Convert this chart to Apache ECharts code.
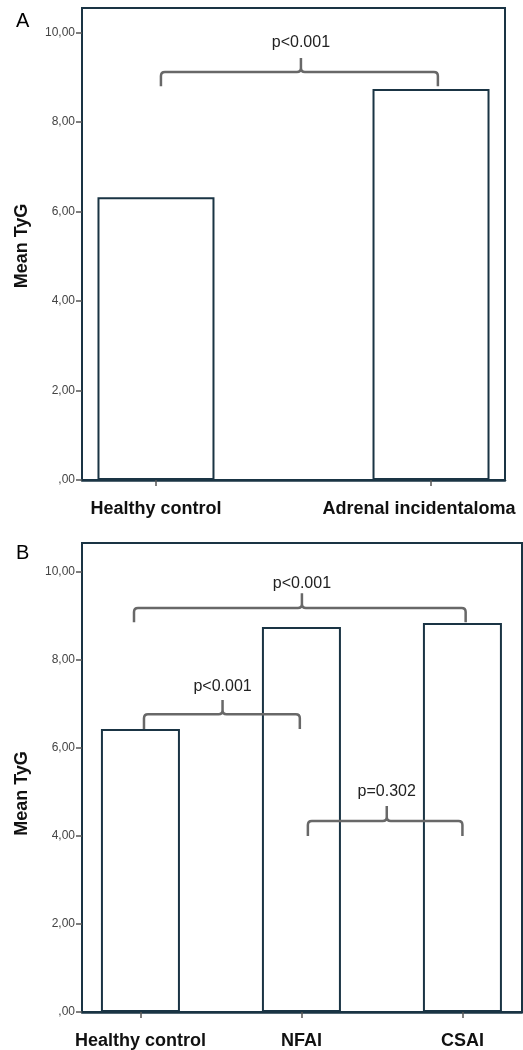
<!DOCTYPE html>
<html>
<head>
<meta charset="utf-8">
<script src="https://cdn.jsdelivr.net/npm/echarts@6/dist/echarts.min.js"></script>
<style>
html,body{margin:0;padding:0;background:#fff;}
#c{width:523px;height:1050px;}
</style>
</head>
<body>
<div id="c"></div>
<script>
// ---- Data ----
const categoriesA = ['Healthy control', 'Adrenal incidentaloma'];
const valuesA = [6.32, 8.74];
const categoriesB = ['Healthy control', 'NFAI', 'CSAI'];
const valuesB = [6.43, 8.75, 8.84];
const yTicks = [0, 2, 4, 6, 8, 10];
// Brackets: [xStart, xEnd, xCusp, yEnds, yBar, yCusp, yText] in data units
const bracketsA = [[0.018, 1.025, 0.527, 8.80, 9.12, 9.43, 9.77]];
const bracketLabelsA = ['p<0.001'];
const bracketsB = [
  [-0.04, 2.02, 1.003, 8.86, 9.18, 9.52, 9.73],
  [0.022, 0.99, 0.51, 6.43, 6.77, 7.09, 7.39],
  [1.04, 2.0, 1.53, 4.0, 4.34, 4.68, 5.0]
];
const bracketLabelsB = ['p<0.001', 'p<0.001', 'p=0.302'];

const FONT = '"Liberation Sans", Arial, sans-serif';
const NAVY = '#1a3444';
const GRAY = '#686868';

function yLabel(v) {
  if (v === 0) return ',00';
  return v.toFixed(2).replace('.', ',');
}

function bracketRender(labels) {
  return function (params, api) {
    const x1 = api.value(0), x2 = api.value(1), xc = api.value(2);
    const yE = api.value(3), yB = api.value(4), yC = api.value(5), yT = api.value(6);
    const pL = api.coord([x1, yE]);
    const pR = api.coord([x2, yE]);
    const pB = api.coord([xc, yB]);
    const pC = api.coord([xc, yC]);
    const pT = api.coord([xc, yT]);
    const r = 4;
    const by = pB[1];
    const d = [
      'M', pL[0], pL[1],
      'L', pL[0], by + r,
      'Q', pL[0], by, pL[0] + r, by,
      'L', pB[0] - r, by,
      'Q', pB[0], by, pB[0], by - r,
      'L', pB[0], pC[1],
      'M', pB[0], by - r,
      'Q', pB[0], by, pB[0] + r, by,
      'L', pR[0] - r, by,
      'Q', pR[0], by, pR[0], by + r,
      'L', pR[0], pR[1]
    ].join(' ');
    return {
      type: 'group',
      children: [
        { type: 'path', shape: { pathData: d }, style: { fill: null, stroke: GRAY, lineWidth: 2.5 } },
        { type: 'text', x: pT[0], y: pT[1], style: { text: labels[params.dataIndex], font: '16px ' + FONT, fill: '#222', align: 'center', verticalAlign: 'middle' } }
      ]
    };
  };
}

function yAxisCfg(gridIndex, max, namePad) {
  return {
    type: 'value', gridIndex: gridIndex, min: 0, max: max,
    name: 'Mean TyG', nameLocation: 'middle', nameGap: 51, nameRotate: 90,
    nameTextStyle: { fontFamily: FONT, fontWeight: 'bold', fontSize: 18, color: '#111', padding: namePad },
    axisLine: { show: false, onZero: false },
    splitLine: { show: false },
    axisTick: { show: true, length: 6, customValues: yTicks, lineStyle: { color: '#555', width: 1.5 } },
    axisLabel: { customValues: yTicks, formatter: yLabel, fontFamily: FONT, fontSize: 12, color: '#444', margin: 7 }
  };
}

function xAxisCfg(gridIndex, min, max, cats, richPad) {
  const idx = cats.map((c, i) => i);
  return {
    type: 'value', gridIndex: gridIndex, min: min, max: max,
    splitLine: { show: false },
    axisLine: { show: true, onZero: false, lineStyle: { color: NAVY, width: 2.5 } },
    axisTick: { show: true, length: 6, customValues: idx, lineStyle: { color: '#555', width: 1.5 } },
    axisLabel: {
      customValues: idx,
      formatter: function (v) {
        const i = Math.round(v);
        return '{c' + i + '|' + cats[i] + '}';
      },
      margin: 20,
      rich: richPad
    }
  };
}

const labelStyle = { fontFamily: FONT, fontWeight: 'bold', fontSize: 18, color: '#111' };

const chart = echarts.init(document.getElementById('c'), null, { renderer: 'canvas' });
chart.setOption({
  animation: false,
  backgroundColor: '#fff',
  title: [
    { text: 'A', left: 11, top: 6, textStyle: { fontFamily: FONT, fontWeight: 'normal', fontSize: 20, color: '#000' } },
    { text: 'B', left: 11, top: 538, textStyle: { fontFamily: FONT, fontWeight: 'normal', fontSize: 20, color: '#000' } }
  ],
  grid: [
    { left: 82, top: 8, width: 423, height: 472, show: true, borderColor: NAVY, borderWidth: 2, backgroundColor: '#fff' },
    { left: 82, top: 543, width: 440, height: 469, show: true, borderColor: NAVY, borderWidth: 2, backgroundColor: '#fff' }
  ],
  xAxis: [
    xAxisCfg(0, -0.269, 1.269, categoriesA, {
      c0: labelStyle,
      c1: Object.assign({}, labelStyle, { padding: [0, 24, 0, 0] })
    }),
    xAxisCfg(1, -0.363, 2.37, categoriesB, { c0: labelStyle, c1: labelStyle, c2: labelStyle })
  ],
  yAxis: [
    yAxisCfg(0, 10.55, [0, 4, 0, 0]),
    yAxisCfg(1, 10.66, [0, 32, 0, 0])
  ],
  series: [
    {
      type: 'bar', xAxisIndex: 0, yAxisIndex: 0, barWidth: 117,
      data: valuesA.map((v, i) => [i, v]),
      itemStyle: { color: '#fff', borderColor: NAVY, borderWidth: 2 }
    },
    {
      type: 'bar', xAxisIndex: 1, yAxisIndex: 1, barWidth: 79,
      data: valuesB.map((v, i) => [i, v]),
      itemStyle: { color: '#fff', borderColor: NAVY, borderWidth: 2 }
    },
    {
      type: 'custom', xAxisIndex: 0, yAxisIndex: 0, clip: false,
      renderItem: bracketRender(bracketLabelsA), data: bracketsA, z: 5
    },
    {
      type: 'custom', xAxisIndex: 1, yAxisIndex: 1, clip: false,
      renderItem: bracketRender(bracketLabelsB), data: bracketsB, z: 5
    }
  ]
});
</script>
</body>
</html>
